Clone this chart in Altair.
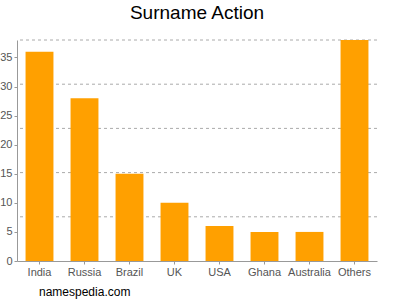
import altair as alt
import pandas as pd

countries = ["India", "Russia", "Brazil", "UK", "USA", "Ghana", "Australia", "Others"]
counts = [36, 28, 15, 10, 6, 5, 5, 38]
y_ticks = [0, 5, 10, 15, 20, 25, 30, 35]
grid_lines = [7.6, 15.2, 22.8, 30.4, 38]

df = pd.DataFrame({"country": countries, "count": counts})
gdf = pd.DataFrame({"g": grid_lines})

yscale = alt.Scale(domain=[0, 38], nice=False, zero=True)
yaxis = alt.Axis(values=y_ticks, grid=False, tickSize=3, labelPadding=2,
                 labelOverlap=False, labelBound=False,
                 domainColor="#999999", tickColor="#999999", labelColor="#555555",
                 labelFontSize=11, labelFont="Liberation Sans")

grid = alt.Chart(gdf).mark_rule(color="#aaaaaa", strokeDash=[3, 3], strokeWidth=1).encode(
    y=alt.Y("g:Q", scale=yscale, title=None, axis=yaxis)
)

bars = alt.Chart(df).mark_bar(color="#ffa000").encode(
    x=alt.X("country:N", sort=countries, title=None,
            scale=alt.Scale(paddingInner=0.38, paddingOuter=0.19),
            axis=alt.Axis(labelAngle=0, tickSize=3, labelPadding=2, domainColor="#999999",
                          tickColor="#999999", labelColor="#555555", labelFontSize=11,
                          labelFont="Liberation Sans")),
    y=alt.Y("count:Q", scale=yscale, title=None, axis=yaxis),
)

footer = alt.Chart(pd.DataFrame({"t": ["namespedia.com"]})).mark_text(
    font="Liberation Sans", fontSize=12, color="#000000", align="left", baseline="alphabetic"
).encode(x=alt.value(22), y=alt.value(256), text="t:N")

chart = alt.layer(grid, bars, footer).properties(
    width=360, height=221,
    title=alt.Title("Surname Action", fontSize=19, font="Liberation Sans", fontWeight="normal",
                    color="#000000", offset=17, anchor="middle"),
    autosize=alt.AutoSizeParams(type="none"),
    padding={"left": 17, "top": 40, "right": 23, "bottom": 39},
).configure_view(stroke=None)

chart.save("out.html", embed_options={"renderer": "svg", "actions": False})
